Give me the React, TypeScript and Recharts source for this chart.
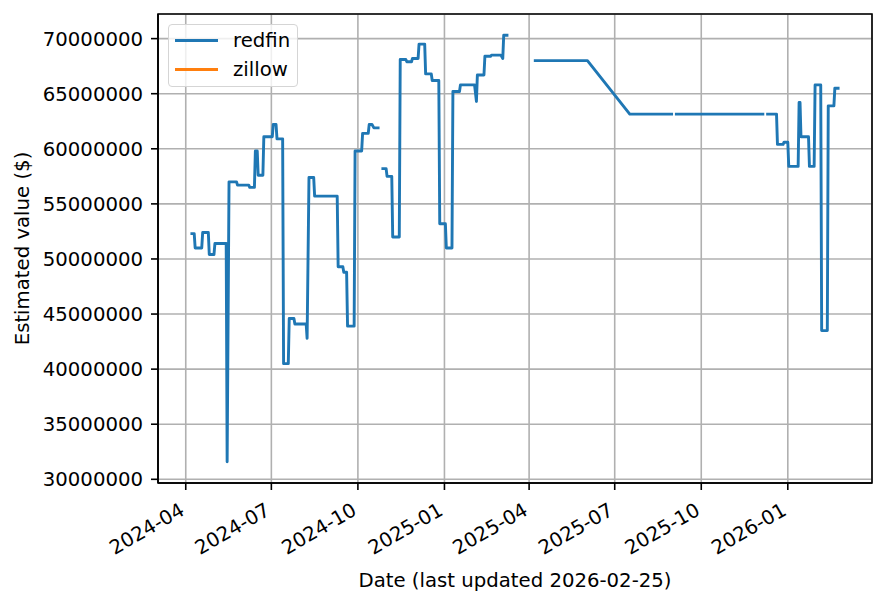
import { LineChart, Line, XAxis, YAxis, CartesianGrid, Legend, ReferenceArea } from 'recharts';

// Observation dates (daily samples, only the turning points kept) and estimates in dollars.
// null marks a missing day, which breaks the line.
const dates = [
  '2024-04-06', '2024-04-10', '2024-04-11', '2024-04-18', '2024-04-19', '2024-04-25', '2024-04-26', '2024-05-01',
  '2024-05-02', '2024-05-14', '2024-05-15', '2024-05-17', '2024-05-25', '2024-05-26', '2024-06-07', '2024-06-08',
  '2024-06-13', '2024-06-14', '2024-06-16', '2024-06-17', '2024-06-22', '2024-06-23', '2024-07-02', '2024-07-03',
  '2024-07-06', '2024-07-07', '2024-07-13', '2024-07-14', '2024-07-19', '2024-07-20', '2024-07-25', '2024-07-26',
  '2024-08-07', '2024-08-08', '2024-08-10', '2024-08-15', '2024-08-16', '2024-09-09', '2024-09-10', '2024-09-15',
  '2024-09-16', '2024-09-19', '2024-09-20', '2024-09-27', '2024-09-28', '2024-10-05', '2024-10-06', '2024-10-12',
  '2024-10-13', '2024-10-16', '2024-10-18', '2024-10-24', '2024-10-25',
  '2024-10-26', '2024-10-31', '2024-11-01', '2024-11-06', '2024-11-07', '2024-11-14', '2024-11-15', '2024-11-21',
  '2024-11-22', '2024-11-27', '2024-11-28', '2024-12-04', '2024-12-05', '2024-12-11', '2024-12-12', '2024-12-18',
  '2024-12-19', '2024-12-26', '2024-12-27', '2025-01-02', '2025-01-03', '2025-01-09', '2025-01-10', '2025-01-17',
  '2025-01-18', '2025-02-02', '2025-02-04', '2025-02-05', '2025-02-12', '2025-02-13', '2025-02-19', '2025-02-20',
  '2025-03-02', '2025-03-04', '2025-03-05', '2025-03-10', '2025-03-11',
  '2025-04-06', '2025-06-02', '2025-07-17', '2025-09-01', '2025-09-02',
  '2025-09-03', '2025-12-07', '2025-12-08',
  '2025-12-09', '2025-12-20', '2025-12-21', '2025-12-27', '2025-12-28', '2026-01-01', '2026-01-02', '2026-01-12',
  '2026-01-13', '2026-01-14', '2026-01-15', '2026-01-23', '2026-01-24', '2026-01-29', '2026-01-30', '2026-02-05',
  '2026-02-06', '2026-02-12', '2026-02-13', '2026-02-19', '2026-02-20', '2026-02-25',
];

const redfin = [
  52300000, 52300000, 51000000, 51000000, 52400000, 52400000, 50400000, 50400000,
  51400000, 51400000, 31600000, 57000000, 57000000, 56700000, 56700000, 56500000,
  56500000, 59800000, 59800000, 57600000, 57600000, 61100000, 61100000, 62200000,
  62200000, 60900000, 60900000, 40500000, 40500000, 44600000, 44600000, 44100000,
  44100000, 42800000, 57400000, 57400000, 55700000, 55700000, 49300000, 49300000,
  48800000, 48800000, 43900000, 43900000, 59800000, 59800000, 61400000, 61400000,
  62200000, 62200000, 61900000, 61900000, null,
  58200000, 58200000, 57500000, 57500000, 52000000, 52000000, 68100000, 68100000,
  67900000, 67900000, 68200000, 68200000, 69500000, 69500000, 66800000, 66800000,
  66200000, 66200000, 53200000, 53200000, 51000000, 51000000, 65200000, 65200000,
  65800000, 65800000, 64300000, 66700000, 66700000, 68400000, 68400000, 68500000,
  68500000, 68200000, 70300000, 70300000, null,
  68000000, 68000000, 63150000, 63150000, null,
  63150000, 63150000, null,
  63150000, 63150000, 60400000, 60400000, 60600000, 60600000, 58400000, 58400000,
  64200000, 64200000, 61100000, 61100000, 58400000, 58400000, 65800000, 65800000,
  43500000, 43500000, 63900000, 63900000, 65500000, 65500000,
];

// zillow has no values in this window
const zillow: (number | null)[] = dates.map(() => null);

const xTickDates = [
  '2024-04-01', '2024-07-01', '2024-10-01', '2025-01-01',
  '2025-04-01', '2025-07-01', '2025-10-01', '2026-01-01',
];
const yTicks = [30000000, 35000000, 40000000, 45000000, 50000000, 55000000, 60000000, 65000000, 70000000];

const FONT = '"DejaVu Sans", sans-serif';
const FONT_SIZE = 19.7;

const data = dates.map((d, i) => ({ t: Date.parse(d), redfin: redfin[i], zillow: zillow[i] }));

// matplotlib style 5% autoscale margins
const times = data.map((d) => d.t);
const tMin = Math.min(...times);
const tMax = Math.max(...times);
const xPad = (tMax - tMin) * 0.05;
const xDomain = [tMin - xPad, tMax + xPad];

const vals = redfin.filter((v): v is number => v !== null);
const vMin = Math.min(...vals);
const vMax = Math.max(...vals);
const yPad = (vMax - vMin) * 0.05;
const yDomain = [vMin - yPad, vMax + yPad];

const fmtMonth = (t: number) => {
  const d = new Date(t);
  return `${d.getUTCFullYear()}-${String(d.getUTCMonth() + 1).padStart(2, '0')}`;
};

const DateTick = ({ x, y, payload }: any) => (
  <g transform={`translate(${x},${y + 17})`}>
    <text
      textAnchor="end"
      transform="rotate(-30)"
      fontFamily={FONT}
      fontSize={FONT_SIZE}
      fill="#000"
    >
      {fmtMonth(payload.value)}
    </text>
  </g>
);

const LegendBox = ({ payload }: any) => (
  <div
    style={{
      boxSizing: 'border-box',
      width: 130,
      height: 63,
      padding: '1px 0 0 6px',
      border: '1.6px solid #d5d5d5',
      borderRadius: 4,
      background: 'rgba(255,255,255,0.8)',
      fontFamily: FONT,
      fontSize: FONT_SIZE,
    }}
  >
    {(payload || []).map((entry: any) => (
      <div key={entry.value} style={{ display: 'flex', alignItems: 'center', height: 29 }}>
        <span style={{ display: 'inline-block', width: 43, height: 3, background: entry.color }} />
        <span style={{ marginLeft: 15, color: '#000', lineHeight: '29px' }}>{entry.value}</span>
      </div>
    ))}
  </div>
);

export default function App() {
  return (
    <div style={{ position: 'absolute', left: 0, top: 0, background: '#fff' }}>
      <LineChart width={886} height={598} data={data} margin={{ top: 14, right: 14, bottom: 0, left: 0 }}>
        <CartesianGrid stroke="#b0b0b0" strokeWidth={1.6} />
        <XAxis
          dataKey="t"
          type="number"
          domain={xDomain}
          ticks={xTickDates.map((d) => Date.parse(d))}
          interval={0}
          tick={<DateTick />}
          tickSize={7}
          tickMargin={7}
          height={115}
          axisLine={{ stroke: '#000', strokeWidth: 1.6 }}
          tickLine={{ stroke: '#000', strokeWidth: 1.6 }}
          allowDataOverflow
          label={{
            value: 'Date (last updated 2026-02-25)',
            position: 'insideBottom',
            offset: 11,
            style: { fontFamily: FONT, fontSize: FONT_SIZE, fill: '#000' },
          }}
        />
        <YAxis
          type="number"
          domain={yDomain}
          ticks={yTicks}
          interval={0}
          tickFormatter={(v: number) => String(v)}
          width={158}
          tickSize={7}
          tickMargin={8}
          allowDataOverflow
          axisLine={{ stroke: '#000', strokeWidth: 1.6 }}
          tickLine={{ stroke: '#000', strokeWidth: 1.6 }}
          tick={{ fontFamily: FONT, fontSize: FONT_SIZE, fill: '#000' }}
          label={{
            value: 'Estimated value ($)',
            angle: -90,
            position: 'insideLeft',
            offset: 22,
            style: { fontFamily: FONT, fontSize: FONT_SIZE, fill: '#000', textAnchor: 'middle' },
          }}
        />
        <Legend
          layout="horizontal"
          verticalAlign="middle"
          align="center"
          content={<LegendBox />}
          wrapperStyle={{ position: 'absolute', left: 168, top: 24, width: 'auto', height: 'auto' }}
        />
        <Line
          type="linear"
          dataKey="redfin"
          name="redfin"
          stroke="#1f77b4"
          strokeWidth={2.9}
          strokeLinejoin="round"
          strokeLinecap="butt"
          dot={false}
          activeDot={false}
          connectNulls={false}
          isAnimationActive={false}
        />
        <Line
          type="linear"
          dataKey="zillow"
          name="zillow"
          stroke="#ff7f0e"
          strokeWidth={2.9}
          dot={false}
          activeDot={false}
          connectNulls={false}
          isAnimationActive={false}
        />
        <ReferenceArea
          x1={xDomain[0]}
          x2={xDomain[1]}
          y1={yDomain[0]}
          y2={yDomain[1]}
          fill="none"
          stroke="#000"
          strokeWidth={1.6}
          ifOverflow="visible"
        />
      </LineChart>
    </div>
  );
}
